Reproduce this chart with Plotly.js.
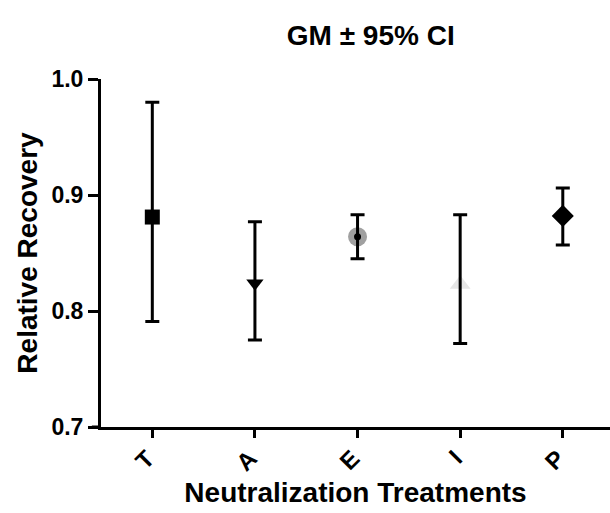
<!DOCTYPE html>
<html><head><meta charset="utf-8">
<script src="https://cdn.plot.ly/plotly-3.0.1.min.js"></script>
<style>html,body{margin:0;padding:0;background:#fff}</style>
</head><body><div id="chart" style="width:610px;height:513px"></div>
<script>
const categories = ["T", "A", "E", "I", "P"];
const gm = [0.881, 0.824, 0.864, 0.823, 0.882];
const upper = [0.980, 0.877, 0.883, 0.883, 0.906];
const lower = [0.791, 0.775, 0.845, 0.772, 0.857];
const symbols = ["square", "triangle-down", "circle", "triangle-up", "diamond"];
const colors = ["#000000", "#000000", "#a0a0a0", "#e6e6e6", "#000000"];
const sizes = [15, 15, 19, 18, 17];

const plus = gm.map((v, i) => upper[i] - v);
const minus = gm.map((v, i) => v - lower[i]);
const F = "Liberation Sans, Arial, sans-serif";

const traces = [
  {x: categories, y: gm, type: "scatter", mode: "markers",
   marker: {symbol: symbols, color: colors, size: sizes, line: {width: 0}, opacity: 1}, hoverinfo: "skip"},
  {x: categories, y: gm, type: "scatter", mode: "markers",
   marker: {size: 1, color: "rgba(0,0,0,0)"},
   error_y: {type: "data", symmetric: false, array: plus, arrayminus: minus,
             color: "#000", thickness: 3, width: 7}},
  {x: [categories[2]], y: [gm[2]], type: "scatter", mode: "markers",
   marker: {symbol: "circle", color: "#000", size: 7}}
];

const layout = {
  width: 610, height: 513,
  margin: {l: 101, r: 0, t: 79, b: 86},
  paper_bgcolor: "#fff", plot_bgcolor: "#fff",
  showlegend: false,
  font: {family: F, color: "#000"},
  title: {text: "<b>GM ± 95% CI</b>", font: {family: F, size: 28, color: "#000"},
          x: 0.53, xref: "paper", xanchor: "center", y: 1 - 35/513, yref: "container", yanchor: "middle"},
  xaxis: {type: "category", range: [-0.5, 4.46], showline: true, linewidth: 3, linecolor: "#000",
          ticks: "outside", ticklen: 8, tickwidth: 3, tickcolor: "#000", tickangle: -45,
          ticklabelshift: -5, ticklabelstandoff: -3,
          tickfont: {family: F, size: 24, color: "#000", weight: "bold"}, showgrid: false, zeroline: false,
          title: {text: "<b>Neutralization Treatments</b>", font: {family: F, size: 28, color: "#000"}, standoff: 8}},
  yaxis: {range: [0.7, 1.0], tickvals: [0.7, 0.8, 0.9, 1.0], ticktext: ["0.7", "0.8", "0.9", "1.0"],
          showline: true, linewidth: 3, linecolor: "#000",
          ticks: "outside", ticklen: 10, tickwidth: 3, tickcolor: "#000",
          tickfont: {family: F, size: 23, color: "#000", weight: "bold"}, showgrid: false, zeroline: false,
          title: {text: "<b>Relative Recovery</b>", font: {family: F, size: 28, color: "#000"}, standoff: 6}},
  shapes: [{type: "line", xref: "paper", yref: "paper", x0: -0.018, x1: 0, y0: 0, y1: 0,
            line: {color: "#000", width: 3}}]
};
Plotly.newPlot("chart", traces, layout, {displayModeBar: false});
</script></body></html>
